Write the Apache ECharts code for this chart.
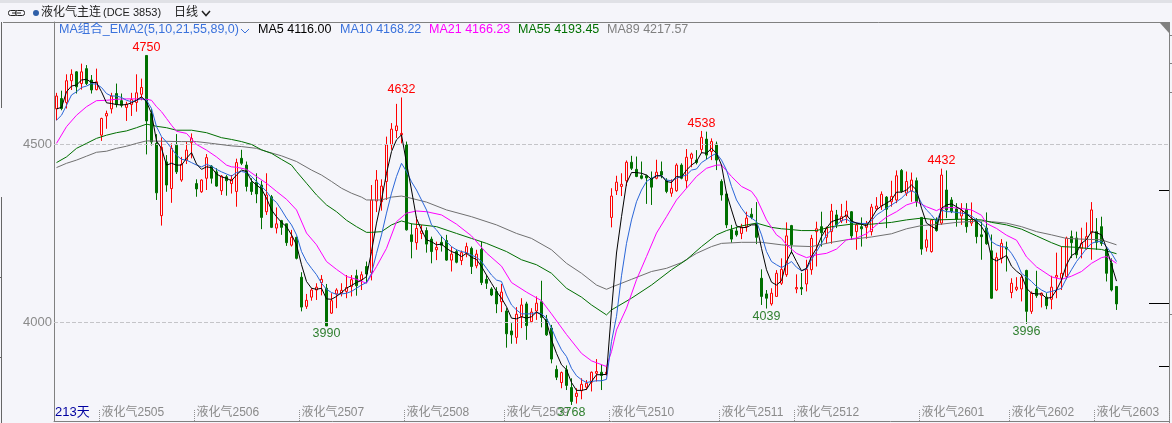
<!DOCTYPE html>
<html>
<head>
<meta charset="utf-8">
<title>液化气主连</title>
<script src="https://cdn.jsdelivr.net/npm/echarts@6/dist/echarts.min.js"></script>
<style>
  html, body { margin: 0; padding: 0; background: #f5f5fa; }
  #main { width: 1172px; height: 423px; }
</style>
</head>
<body>
<div id="main"></div>
<script>
// 日K数据,从图上读的
const opens = [
  4600,4629,4618,4679,4704,4671,4713,4681,4654,4526,4580,4600,4643,4623,4604,4612,4618,4641,4750,4587,
  4503,4300,4451,4376,4498,4400,4456,4505,4390,4367,4405,4439,4423,4370,4409,4390,4368,4461,4442,4393,
  4394,4386,4311,4353,4265,4286,4277,4217,4239,4127,4045,4071,4091,4112,4096,4026,4080,4082,4087,4101,
  4131,4120,4157,4140,4341,4339,4396,4499,4539,4527,4499,4246,4224,4250,4258,4234,4204,4225,4230,4175,
  4199,4174,4194,4208,4159,4205,4121,4094,4087,4058,4032,3976,3958,4016,4052,4002,4032,4058,4009,3984,
  3868,3831,3867,3817,3792,3808,3818,3832,3857,3860,3856,4295,4370,4382,4398,4450,4430,4412,4412,4405,
  4405,4424,4398,4363,4370,4442,4398,4461,4456,4486,4515,4480,4501,4396,4361,4260,4257,4250,4269,4304,
  4279,4124,4080,4052,4073,4110,4134,4272,4094,4098,4108,4148,4255,4269,4239,4255,4302,4285,4297,4311,
  4255,4269,4267,4255,4319,4327,4352,4339,4344,4427,4363,4369,4398,4295,4211,4199,4290,4279,4372,4344,
  4319,4299,4318,4279,4288,4246,4265,4201,4091,4180,4211,4084,4093,4094,4146,4031,4094,4076,4071,4065,
  4127,4124,4129,4241,4237,4208,4208,4252,4255,4269,4206,4166,4101
];
const closes = [
  4636,4601,4679,4697,4662,4704,4671,4653,4676,4573,4587,4636,4613,4610,4613,4626,4645,4660,4566,4507,
  4364,4492,4386,4489,4423,4444,4484,4517,4375,4400,4463,4405,4383,4411,4398,4402,4449,4447,4382,4368,
  4361,4295,4358,4267,4277,4267,4224,4239,4180,4043,4062,4091,4099,4121,3990,4061,4091,4090,4098,4120,
  4103,4134,4136,4344,4400,4383,4499,4543,4552,4531,4260,4227,4264,4257,4220,4199,4211,4217,4175,4192,
  4169,4196,4213,4157,4192,4112,4110,4077,4052,4085,3968,3965,4023,4049,3991,4029,4054,4014,3965,3897,
  3846,3859,3823,3778,3801,3826,3829,3860,3862,3851,3860,4355,4394,4388,4450,4433,4410,4405,4406,4380,
  4422,4414,4368,4377,4442,4405,4464,4473,4449,4520,4470,4508,4456,4358,4274,4234,4246,4267,4293,4295,
  4239,4073,4068,4082,4138,4149,4243,4218,4098,4094,4149,4236,4263,4252,4265,4313,4274,4297,4313,4243,
  4274,4263,4277,4324,4327,4360,4318,4354,4412,4368,4396,4400,4339,4206,4232,4288,4258,4414,4316,4311,
  4290,4314,4269,4290,4241,4241,4221,4068,4182,4222,4206,4110,4099,4127,4031,4082,4075,4082,4047,4099,
  4132,4138,4237,4224,4190,4222,4241,4316,4225,4222,4138,4091,4052
];
const highs = [
  4645,4651,4697,4711,4706,4727,4723,4695,4713,4575,4595,4645,4671,4643,4620,4645,4697,4685,4750,4600,
  4529,4520,4470,4503,4529,4465,4507,4531,4402,4402,4473,4442,4433,4414,4414,4414,4460,4485,4452,4405,
  4419,4398,4419,4358,4323,4288,4277,4260,4241,4141,4080,4096,4110,4133,4108,4082,4096,4110,4133,4133,
  4148,4143,4171,4386,4428,4402,4522,4560,4614,4632,4508,4278,4297,4274,4267,4241,4227,4243,4246,4213,
  4205,4202,4224,4213,4204,4227,4133,4099,4099,4108,4040,3998,4043,4068,4058,4040,4073,4117,4021,3993,
  3879,3862,3879,3843,3815,3843,3838,3862,3897,3881,3875,4377,4412,4419,4455,4468,4466,4452,4415,4424,
  4457,4452,4405,4402,4447,4447,4487,4477,4484,4538,4536,4517,4508,4402,4367,4274,4269,4277,4311,4321,
  4338,4149,4091,4096,4147,4180,4281,4274,4135,4139,4176,4246,4283,4311,4269,4333,4316,4333,4342,4313,
  4281,4295,4285,4333,4352,4368,4355,4398,4427,4431,4424,4421,4407,4295,4260,4290,4295,4432,4427,4352,
  4335,4335,4335,4337,4293,4283,4309,4247,4196,4234,4227,4124,4127,4134,4148,4087,4145,4084,4082,4131,
  4196,4213,4241,4258,4255,4266,4281,4338,4293,4297,4208,4180,4101
];
const lows = [
  4568,4596,4601,4653,4643,4654,4667,4643,4652,4510,4544,4587,4604,4604,4566,4580,4592,4624,4472,4497,
  4344,4272,4367,4336,4417,4395,4445,4461,4353,4364,4372,4390,4381,4358,4356,4362,4325,4442,4368,4358,
  4335,4262,4302,4265,4250,4246,4215,4213,4177,4031,4038,4061,4063,4076,3990,4024,4040,4073,4068,4073,
  4075,4091,4110,4118,4310,4314,4344,4485,4518,4503,4258,4180,4204,4234,4196,4166,4175,4199,4173,4143,
  4166,4161,4183,4136,4152,4105,4094,4074,4026,4029,3929,3940,3940,3984,3951,3998,4007,3986,3962,3885,
  3838,3815,3810,3768,3772,3784,3810,3806,3834,3810,3850,4267,4358,4355,4383,4428,4408,4402,4333,4330,
  4402,4405,4363,4353,4367,4402,4377,4436,4444,4475,4458,4456,4428,4342,4265,4224,4241,4234,4255,4290,
  4220,4049,4039,4047,4073,4105,4128,4194,4082,4077,4087,4134,4157,4213,4222,4221,4265,4279,4279,4232,
  4204,4213,4235,4244,4314,4316,4265,4325,4335,4364,4355,4339,4325,4190,4199,4196,4255,4274,4293,4307,
  4269,4274,4252,4271,4222,4176,4218,4066,4088,4166,4143,4068,4088,4059,3996,4024,4069,4042,4037,4037,
  4068,4091,4121,4181,4180,4180,4204,4176,4204,4215,4115,4087,4035
];

const ma5 = [
  4600,4604,4648,4664,4667,4681,4683,4674,4674,4648,4617,4615,4612,4611,4612,4617,4624,4634,4620,4587,
  4510,4489,4442,4447,4442,4442,4461,4477,4445,4430,4437,4435,4417,4409,4405,4398,4414,4428,4424,4398,
  4386,4375,4349,4316,4297,4281,4269,4246,4218,4162,4115,4096,4093,4096,4066,4065,4073,4084,4096,4104,
  4112,4118,4129,4199,4279,4344,4419,4480,4513,4527,4448,4372,4292,4260,4232,4227,4218,4220,4208,4199,
  4194,4185,4194,4183,4177,4157,4133,4110,4087,4068,4044,4012,4010,4016,4012,4016,4029,4021,4002,3951,
  3913,3881,3867,3831,3809,3809,3812,3834,3853,3853,3854,4034,4195,4297,4391,4421,4421,4419,4414,4402,
  4412,4412,4396,4393,4410,4408,4428,4442,4452,4477,4475,4489,4475,4442,4363,4316,4271,4266,4267,4274,
  4274,4208,4148,4113,4105,4117,4171,4199,4171,4145,4152,4185,4208,4241,4265,4283,4288,4292,4302,4285,
  4279,4276,4271,4292,4316,4327,4335,4344,4366,4366,4372,4386,4372,4321,4279,4270,4262,4321,4330,4333,
  4325,4316,4305,4293,4283,4269,4246,4180,4173,4180,4188,4158,4144,4133,4096,4082,4080,4080,4068,4070,
  4091,4119,4162,4188,4196,4222,4233,4255,4252,4246,4209,4162,4116
];
const ma10 = [
  4568,4582,4610,4639,4648,4660,4664,4671,4669,4660,4643,4636,4636,4632,4624,4620,4624,4629,4624,4601,
  4550,4522,4507,4489,4470,4458,4456,4449,4442,4437,4444,4439,4430,4423,4417,4411,4421,4424,4421,4410,
  4396,4382,4368,4349,4337,4316,4293,4274,4246,4199,4171,4152,4134,4110,4093,4084,4079,4080,4082,4087,
  4096,4105,4112,4138,4194,4246,4307,4363,4410,4447,4424,4395,4372,4344,4316,4274,4260,4241,4227,4213,
  4204,4199,4196,4189,4183,4171,4152,4133,4119,4115,4077,4049,4035,4024,4024,4024,4028,4024,4012,3984,
  3951,3923,3904,3871,3850,3839,3831,3834,3836,3836,3840,3946,4017,4131,4222,4288,4339,4372,4396,4405,
  4412,4412,4400,4398,4405,4410,4414,4428,4431,4449,4458,4468,4475,4456,4428,4382,4344,4321,4302,4293,
  4283,4246,4199,4171,4162,4154,4162,4171,4155,4145,4150,4176,4199,4222,4246,4260,4274,4286,4290,4281,
  4280,4278,4278,4285,4302,4311,4321,4330,4339,4349,4363,4370,4363,4335,4316,4302,4283,4316,4311,4311,
  4309,4307,4305,4299,4288,4279,4265,4227,4218,4213,4211,4194,4171,4138,4127,4115,4101,4091,4084,4087,
  4091,4096,4124,4148,4171,4189,4208,4222,4227,4227,4213,4194,4171
];
// 慢线只读了转折附近的点 [第几根, 值]
const ma21 = [
  [0,4503],[2,4550],[4,4582],[6,4606],[8,4623],[10,4624],[12,4627],[14,4628],[16,4628],[18,4627],[19,4624],
  [20,4606],[21,4592],[22,4573],[23,4554],[24,4537],[26,4531],[28,4500],[30,4484],[32,4465],[34,4442],[35,4437],
  [36,4436],[38,4430],[40,4410],[42,4391],[44,4368],[46,4346],[48,4316],[50,4251],[52,4218],[54,4171],[56,4149],
  [58,4129],[60,4121],[62,4110],[64,4157],[66,4208],[68,4283],[70,4307],[72,4313],[74,4311],[77,4302],[80,4276],
  [83,4243],[86,4195],[89,4158],[91,4112],[94,4085],[97,4061],[99,4024],[102,3966],[105,3913],[107,3892],[110,3876],
  [111,3918],[112,3979],[114,4040],[116,4120],[118,4185],[120,4251],[122,4297],[124,4344],[126,4377],[128,4410],
  [130,4433],[132,4442],[133,4442],[135,4410],[137,4382],[139,4368],[140,4349],[142,4288],[144,4246],[145,4236],
  [146,4218],[148,4194],[150,4182],[152,4190],[154,4194],[156,4206],[158,4232],[160,4237],[162,4249],[164,4274],
  [166,4296],[168,4311],[170,4330],[172,4339],[174,4325],[176,4314],[177,4321],[179,4323],[181,4320],[183,4316],
  [185,4301],[186,4278],[188,4264],[190,4245],[192,4231],[193,4208],[194,4184],[196,4156],[199,4128],[201,4121],
  [203,4130],[205,4143],[207,4166],[209,4182],[210,4185],[212,4166]
];
const ma55 = [
  [0,4449],[2,4465],[4,4489],[6,4503],[8,4517],[10,4526],[12,4533],[14,4538],[16,4547],[18,4557],[20,4551],
  [22,4547],[24,4540],[27,4540],[30,4533],[33,4519],[35,4514],[37,4508],[39,4500],[41,4485],[43,4475],[45,4458],
  [47,4442],[48,4424],[50,4391],[52,4358],[54,4330],[56,4311],[58,4287],[60,4269],[62,4253],[63,4253],[65,4255],
  [67,4274],[69,4285],[71,4277],[73,4274],[76,4269],[80,4250],[83,4236],[86,4222],[90,4199],[93,4176],[96,4162],
  [99,4138],[102,4096],[105,4071],[107,4049],[110,4021],[111,4035],[115,4068],[119,4105],[123,4148],[126,4176],
  [129,4213],[132,4246],[134,4258],[137,4271],[140,4279],[143,4267],[145,4263],[146,4262],[149,4258],[152,4258],
  [155,4269],[159,4276],[163,4276],[167,4281],[170,4288],[173,4293],[176,4288],[181,4290],[185,4288],[187,4281],
  [190,4274],[193,4262],[196,4243],[199,4224],[201,4213],[204,4211],[206,4208],[209,4205],[212,4193]
];
const ma89 = [
  [0,4435],[2,4447],[4,4456],[6,4467],[8,4478],[10,4481],[12,4489],[14,4495],[16,4503],[18,4510],[21,4509],
  [25,4508],[28,4508],[31,4503],[35,4496],[37,4494],[40,4489],[42,4480],[45,4468],[48,4452],[51,4428],[53,4414],
  [55,4396],[57,4377],[59,4363],[61,4352],[62,4344],[65,4344],[67,4352],[69,4355],[70,4352],[74,4338],[78,4316],
  [83,4297],[88,4274],[92,4250],[95,4236],[99,4204],[102,4166],[105,4138],[108,4105],[110,4093],[111,4099],
  [115,4121],[119,4143],[122,4152],[125,4168],[128,4194],[131,4213],[133,4222],[137,4225],[141,4225],[145,4218],
  [147,4215],[151,4213],[155,4225],[158,4232],[163,4240],[167,4249],[170,4263],[173,4272],[177,4276],[180,4281],
  [185,4285],[187,4283],[190,4279],[193,4269],[196,4255],[199,4246],[202,4236],[205,4234],[209,4232],[212,4218]
];

const contractIdx = [9, 28, 49, 70, 90, 111, 133, 148, 173, 191, 208];
const contractNames = ['液化气2505','液化气2506','液化气2507','液化气2508','液化气2509','液化气2510','液化气2511','液化气2512','液化气2601','液化气2602','液化气2603'];
const yLevels = [4000, 4500];
const highMarks = [[18, 4750], [69, 4632], [129, 4538], [177, 4432]];
const lowMarks = [[54, 3990], [103, 3768], [142, 4039], [194, 3996]];
const legendTexts = ['MA5 4116.00', 'MA10 4168.22', 'MA21 4166.23', 'MA55 4193.45', 'MA89 4217.57'];

const BG = '#f5f5fa';
const FONT = '"Liberation Sans","Noto Sans CJK SC",sans-serif';

// 右边留10根空位,223根刚好铺满
const slots = 223;
let categories = [];
for (let i = 0; i < slots; i++) {
  let k = contractIdx.indexOf(i);
  categories.push(k >= 0 ? contractNames[k] : String(i));
}
let kData = opens.map((o, i) => [o, closes[i], lows[i], highs[i]]);

function maLine(name, data, color) {
  return {
    name: name,
    type: 'line',
    data: data,
    showSymbol: false,
    silent: true,
    lineStyle: { color: color, width: 1 },
    z: 5
  };
}
function markPts(list, color, pos) {
  return list.map((p) => ({
    coord: [p[0], p[1]],
    value: p[1],
    symbol: 'circle',
    symbolSize: 1,
    itemStyle: { color: 'transparent' },
    label: { show: true, position: pos, distance: 1, color: color, fontSize: 12.5, fontFamily: FONT, formatter: String(p[1]) }
  }));
}
function txt(x, y, text, fill, size) {
  return { type: 'text', x: x, y: y, silent: true, style: { text: text, fill: fill, font: (size || 12) + 'px ' + FONT, textVerticalAlign: 'middle' } };
}
function seg(x1, y1, x2, y2, color) {
  return { type: 'line', silent: true, shape: { x1: x1, y1: y1, x2: x2, y2: y2 }, style: { stroke: color, lineWidth: 1 } };
}

let legendX = [258, 340, 429, 518, 607];
let legendColors = ['#000000', '#3a72dc', '#ff00ff', '#007000', '#808080'];
let graphics = [
  { type: 'rect', silent: true, shape: { x: 0, y: 0, width: 1172, height: 3 }, style: { fill: '#e0e1e6' } },
  seg(3, 22.5, 1170, 22.5, '#808080'),
  seg(1.5, 22, 1.5, 108, '#666666'),
  seg(1.5, 197, 1.5, 423, '#666666'),
  seg(0, 277.5, 2, 277.5, '#666666'),
  seg(0, 357.5, 2, 357.5, '#666666'),
  seg(1169.5, 22, 1169.5, 423, '#808080'),
  seg(1170, 35.5, 1172, 35.5, '#808080'),
  seg(1170, 63.5, 1172, 63.5, '#808080'),
  seg(1170, 92.5, 1172, 92.5, '#808080'),
  seg(1170, 314.5, 1172, 314.5, '#808080'),
  seg(1159, 190.5, 1169, 190.5, '#000000'),
  seg(1149, 303.5, 1169, 303.5, '#000000'),
  seg(1159, 366.5, 1169, 366.5, '#000000'),
  { type: 'polygon', silent: true, shape: { points: [[1160, 23], [1169, 23], [1169, 33]] }, style: { fill: '#808080' } },
  // 顶上那个链接小图标
  { type: 'rect', silent: true, shape: { x: 8.5, y: 10.5, width: 9, height: 5, r: 2 }, style: { fill: null, stroke: '#222222', lineWidth: 1 } },
  { type: 'rect', silent: true, shape: { x: 15.5, y: 10.5, width: 9, height: 5, r: 2 }, style: { fill: BG, stroke: '#222222', lineWidth: 1 } },
  seg(12, 13, 21, 13, '#222222'),
  { type: 'circle', silent: true, shape: { cx: 36, cy: 13, r: 3 }, style: { fill: '#2f5fa8' } },
  txt(41, 13, '液化气主连', '#222222', 12),
  txt(103, 13, '(DCE 3853)', '#222222', 11),
  txt(174, 13, '日线', '#222222', 12),
  { type: 'polyline', silent: true, shape: { points: [[202, 11], [206, 15.5], [210, 11]] }, style: { stroke: '#222222', lineWidth: 1.5, fill: null } },
  txt(59, 30, 'MA组合_EMA2(5,10,21,55,89,0)', '#3a72dc', 12.5),
  { type: 'polyline', silent: true, shape: { points: [[241, 29], [245, 33], [249, 29]] }, style: { stroke: '#3a72dc', lineWidth: 1, fill: null } },
  txt(55, 412, '213天', '#0000a0', 13)
];
legendTexts.forEach((t, i) => graphics.push(txt(legendX[i], 30, t, legendColors[i], 12.5)));

let myChart = echarts.init(document.getElementById('main'));
myChart.setOption({
  animation: false,
  backgroundColor: BG,
  grid: { left: 54, top: 22, width: 1115, height: 399, containLabel: false },
  xAxis: {
    type: 'category',
    data: categories,
    boundaryGap: true,
    axisLine: { show: true, lineStyle: { color: '#808080' } },
    axisTick: {
      show: true,
      inside: true,
      length: 12,
      alignWithLabel: false,
      interval: (i) => contractIdx.includes(i),
      lineStyle: { color: '#909090', type: 'dotted' }
    },
    axisLabel: {
      inside: true,
      margin: 2,
      align: 'left',
      interval: (i) => contractIdx.includes(i),
      color: '#8a8a8a',
      fontSize: 12,
      fontFamily: FONT
    },
    splitLine: { show: false }
  },
  yAxis: {
    type: 'value',
    min: 3723,
    max: 4844,
    axisLine: { show: true, lineStyle: { color: '#808080' } },
    axisTick: { show: false },
    axisLabel: { customValues: yLevels, formatter: (v) => String(v), color: '#8a8a8a', fontSize: 13, margin: 2, fontFamily: FONT },
    splitLine: { show: false }
  },
  series: [
    {
      type: 'candlestick',
      data: kData,
      barWidth: 3,
      silent: true,
      itemStyle: { color: BG, color0: '#007000', borderColor: '#ff0000', borderColor0: '#007000', borderWidth: 1 },
      markLine: {
        silent: true,
        symbol: 'none',
        label: { show: false },
        lineStyle: { color: '#c4c4c8', type: 'dashed', width: 1 },
        data: yLevels.map((v) => ({ yAxis: v }))
      },
      markPoint: {
        silent: true,
        data: markPts(highMarks, '#ff0000', 'top').concat(markPts(lowMarks, '#2f7f2f', 'bottom'))
      }
    },
    maLine('MA89', ma89, '#707070'),
    maLine('MA55', ma55, '#006e00'),
    maLine('MA21', ma21, '#ff00ff'),
    maLine('MA10', ma10, '#2a66d8'),
    maLine('MA5', ma5, '#000000')
  ],
  graphic: graphics
});
</script>
</body>
</html>
